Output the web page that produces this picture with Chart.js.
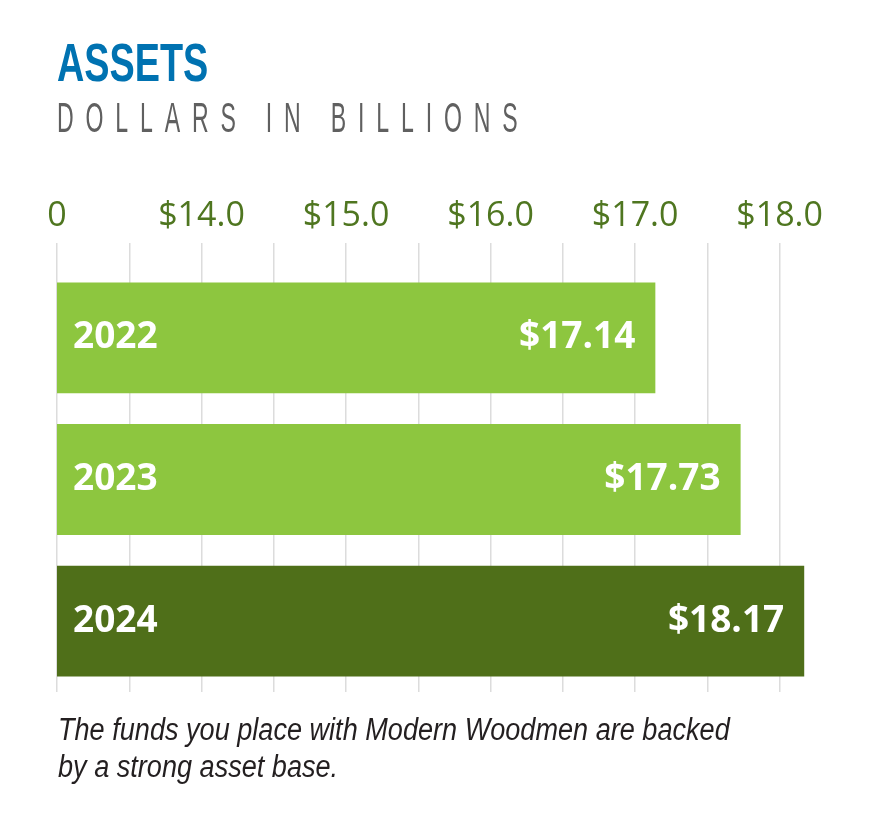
<!DOCTYPE html>
<html>
<head>
<meta charset="utf-8">
<script src="https://cdn.jsdelivr.net/npm/chart.js@4.4.1/dist/chart.umd.min.js"></script>
<style>
  html, body { margin: 0; padding: 0; background: #ffffff; }
  body { width: 872px; height: 820px; position: relative; overflow: hidden; }
  #chart { position: absolute; left: 0; top: 0; }
  .title { position: absolute; left: 57px; top: 35px; margin: 0; white-space: nowrap;
    font-family: "Liberation Sans", Arial, sans-serif; font-weight: 700;
    font-size: 54px; line-height: 1; color: #0072B1; transform: scaleX(0.70); transform-origin: left top; }
  .subtitle { position: absolute; left: 57px; top: 97px; margin: 0; white-space: nowrap;
    font-family: "Liberation Sans", Arial, sans-serif; font-weight: 400;
    font-size: 42px; line-height: 1; color: #606060; letter-spacing: 21.5px;
    transform: scaleX(0.55); transform-origin: left top; }
  .note { position: absolute; left: 58px; top: 711px; margin: 0; white-space: nowrap;
    font-family: "Liberation Sans", Arial, sans-serif; font-style: italic;
    font-size: 31px; line-height: 37px; color: #231F20;
    transform: scaleX(0.874); transform-origin: left top; }
</style>
</head>
<body>
<canvas id="chart" width="872" height="820"></canvas>
<div class="title">ASSETS</div>
<div class="subtitle">DOLLARS IN BILLIONS</div>
<p class="note">The funds you place with Modern Woodmen are backed<br>by a strong asset base.</p>
<script>
// ---- data ----
const categories = ['2022', '2023', '2024'];
const assets = [17.14, 17.73, 18.17];
const valueLabels = ['$17.14', '$17.73', '$18.17'];
const tickValues = [13, 14, 15, 16, 17, 18];
const tickLabels = ['0', '$14.0', '$15.0', '$16.0', '$17.0', '$18.0'];

const LIGHT = '#8DC63F';
const DARK = '#4F6F19';

const barLabelPlugin = {
  id: 'barLabels',
  afterDatasetsDraw(chart) {
    const ctx = chart.ctx;
    const meta = chart.getDatasetMeta(0);
    const area = chart.chartArea;
    ctx.save();
    ctx.fillStyle = '#ffffff';
    ctx.font = '700 37px "Open Sans", "Noto Sans", sans-serif';
    ctx.textBaseline = 'middle';
    meta.data.forEach((bar, i) => {
      ctx.textAlign = 'left';
      ctx.fillText(categories[i], area.left + 16, bar.y);
      ctx.textAlign = 'right';
      ctx.fillText(valueLabels[i], bar.x - 20, bar.y);
    });
    ctx.restore();
  }
};

new Chart(document.getElementById('chart'), {
  type: 'bar',
  data: {
    labels: categories,
    datasets: [{
      data: assets,
      backgroundColor: [LIGHT, LIGHT, DARK],
      borderWidth: 0,
      barPercentage: 0.782,
      categoryPercentage: 1.0
    }]
  },
  options: {
    indexAxis: 'y',
    responsive: false,
    animation: false,
    layout: { padding: { left: 57, right: 49, top: 167, bottom: 128 } },
    plugins: { legend: { display: false }, tooltip: { enabled: false } },
    scales: {
      y: { display: false },
      x: {
        position: 'top',
        min: 13,
        max: 18.3,
        afterBuildTicks(scale) {
          const t = [];
          for (let v = 13; v <= 18.0001; v += 0.5) t.push({ value: v });
          scale.ticks = t;
        },
        afterFit(scale) { scale.height = 100; },
        border: { display: false },
        grid: { color: '#DCDCDC', lineWidth: 1.5, tickLength: 24, drawTicks: true },
        ticks: {
          color: '#4F7620',
          padding: 6,
          maxRotation: 0,
          autoSkip: false,
          font: { family: '"Open Sans", "Noto Sans", sans-serif', size: 34 },
          callback(value) {
            const idx = tickValues.findIndex(v => Math.abs(v - value) < 1e-6);
            return idx >= 0 ? tickLabels[idx] : '';
          }
        }
      }
    }
  },
  plugins: [barLabelPlugin]
});
</script>
</body>
</html>
